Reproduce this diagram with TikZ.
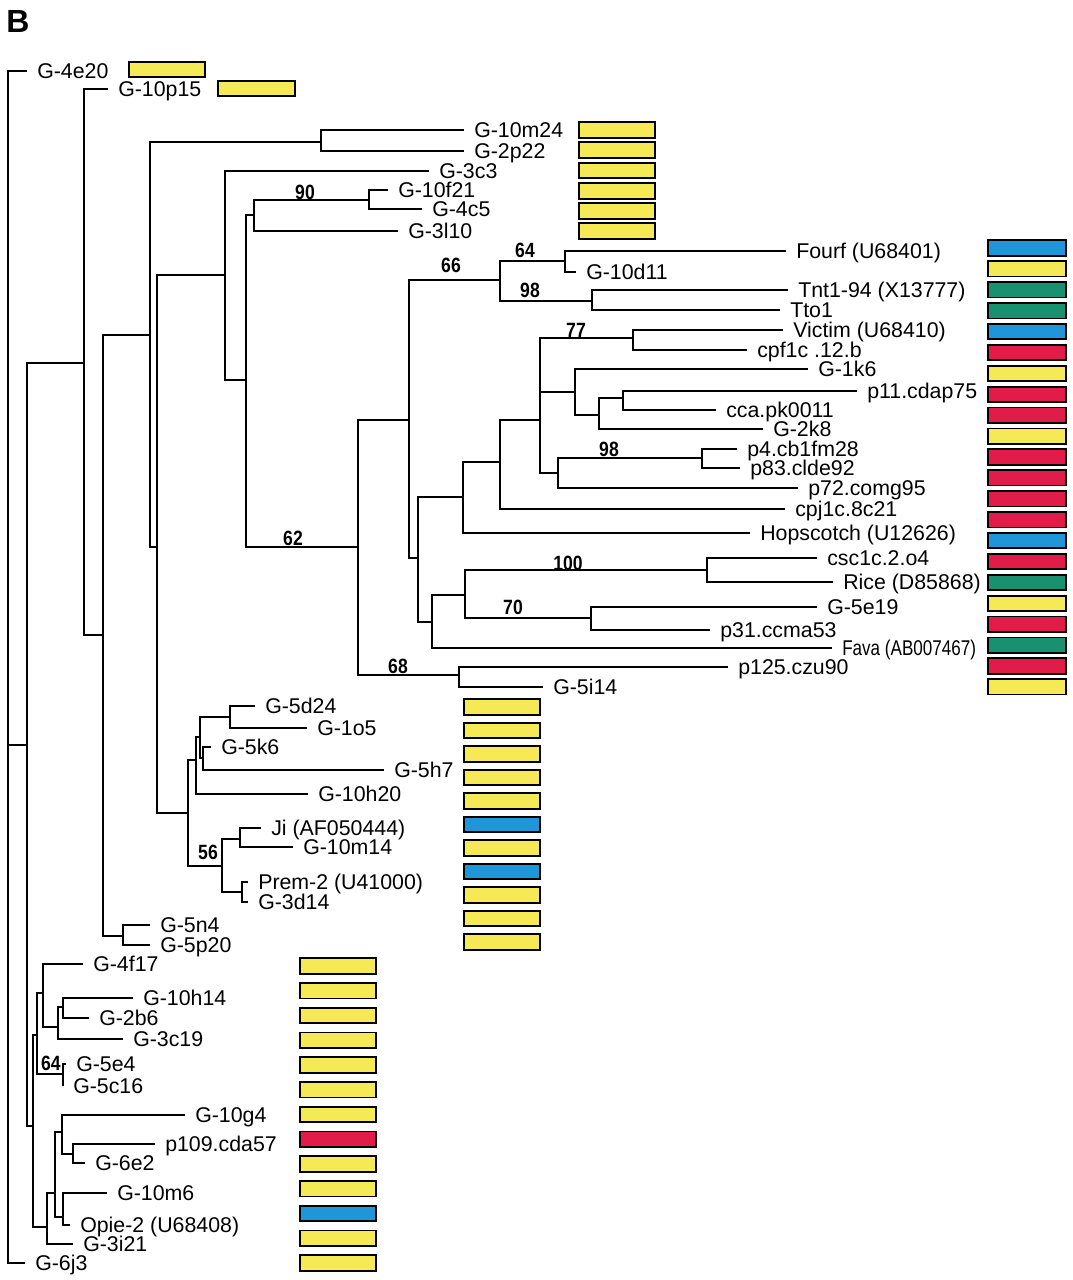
\documentclass[tikz,border=0pt]{standalone}
\usepackage{fontspec}
\setmainfont{Liberation Sans}
\definecolor{cy}{RGB}{245,234,85}
\definecolor{cb}{RGB}{30,150,215}
\definecolor{cg}{RGB}{25,145,112}
\definecolor{cr}{RGB}{225,28,72}
\newcommand\tbr[2]{\foreach \cc in {#2} {\draw[br] (#1) |- (\cc);}}
\begin{document}
\begin{tikzpicture}[x=0.75pt,y=-0.75pt,
 br/.style={line width=2.2pt},
 lab/.style={anchor=base west,inner sep=0pt,xshift=7.5pt,yshift=-5.7pt,font=\fontsize{16}{18}\selectfont},
 bs/.style={inner sep=0pt,font=\fontsize{15.5}{17}\selectfont\bfseries},
 cbox/.style={draw=black,line width=1.3pt,minimum width=57.5pt,minimum height=11.5pt,inner sep=0pt},
 rbox/.style={cbox,minimum width=59pt}]
\useasboundingbox (0,0) rectangle (1072,1280);
\node[anchor=base west,inner sep=0pt,font=\fontsize{24}{26}\selectfont\bfseries] (title) at (6,33) {B};

% ---------- coordinates: internal nodes ----------
\coordinate (R) at (8,745);
\coordinate (H) at (27,745);
\coordinate (G) at (84,363);
\coordinate (F) at (103,635);
\coordinate (E) at (150,335);
\coordinate (N5n) at (123,936);
\coordinate (N10m) at (321,142);
\coordinate (D) at (157,547);
\coordinate (A) at (225,275);
\coordinate (B) at (246,380);
\coordinate (C) at (254,215);
\coordinate (N90) at (369,200);
\coordinate (N62) at (358,547);
\coordinate (N66) at (409,420);
\coordinate (Nab) at (500,280);
\coordinate (N64) at (565,261);
\coordinate (N98) at (592,301);
\coordinate (Nq) at (418,558);
\coordinate (Nh) at (463,497);
\coordinate (Nc) at (500,462);
\coordinate (Nv) at (540,420);
\coordinate (N77) at (633,338);
\coordinate (Nk) at (575,392);
\coordinate (Np) at (599,415);
\coordinate (Nq2) at (623,398);
\coordinate (N98b) at (558,473);
\coordinate (Np4) at (702,458);
\coordinate (Nf) at (432,622);
\coordinate (N65) at (465,595);
\coordinate (N100) at (707,570);
\coordinate (N70) at (591,618);
\coordinate (N68) at (459,675);
\coordinate (M) at (188,813);
\coordinate (N2) at (196,760);
\coordinate (N1) at (200,737);
\coordinate (N5d) at (230,717);
\coordinate (N5k) at (203,758);
\coordinate (N56) at (222,866);
\coordinate (Nji) at (240,839);
\coordinate (Npr) at (242,892);
\coordinate (L) at (33,1126);
\coordinate (Nu) at (37,1035);
\coordinate (Na) at (43,993);
\coordinate (Nb) at (58,1027);
\coordinate (Nd) at (63,1007);
\coordinate (N64b) at (63,1074);
\coordinate (Nw) at (47,1227);
\coordinate (Nx) at (55,1193);
\coordinate (Ny) at (62,1132);
\coordinate (Ns) at (73,1154);
\coordinate (Nz) at (63,1217);

% ---------- tips ----------
\coordinate (t4e20) at (27,71);
\coordinate (t6j3) at (25,1263);
\coordinate (t10p15) at (108,89);
\coordinate (t5n4) at (150,925);
\coordinate (t5p20) at (150,945);
\coordinate (t10m24) at (464,130);
\coordinate (t2p22) at (464,151);
\coordinate (t3c3) at (429,171);
\coordinate (t10f21) at (388,190);
\coordinate (t4c5) at (422,209);
\coordinate (t3l10) at (398,231);
\coordinate (tfourf) at (786,251);
\coordinate (t10d11) at (576,272);
\coordinate (ttnt) at (788,290);
\coordinate (ttto) at (780,310);
\coordinate (tvic) at (783,330);
\coordinate (tcpf) at (747,350);
\coordinate (t1k6) at (808,369);
\coordinate (tp11) at (857,391);
\coordinate (tcca) at (716,410);
\coordinate (t2k8) at (763,429);
\coordinate (tp4) at (737,449);
\coordinate (tp83) at (740,468);
\coordinate (tp72) at (798,488);
\coordinate (tcpj) at (785,509);
\coordinate (thop) at (750,533);
\coordinate (tcsc) at (817,558);
\coordinate (trice) at (833,582);
\coordinate (t5e19) at (817,607);
\coordinate (tp31) at (710,630);
\coordinate (tfava) at (832,648);
\coordinate (tp125) at (728,667);
\coordinate (t5i14) at (543,687);
\coordinate (t5d24) at (255,706);
\coordinate (t1o5) at (307,728);
\coordinate (t5k6) at (211,747);
\coordinate (t5h7) at (384,770);
\coordinate (t10h20) at (308,794);
\coordinate (tji) at (261,828);
\coordinate (t10m14) at (293,847);
\coordinate (tprem) at (248,882);
\coordinate (t3d14) at (248,902);
\coordinate (t4f17) at (83,964);
\coordinate (t10h14) at (133,998);
\coordinate (t2b6) at (89,1018);
\coordinate (t3c19) at (123,1039);
\coordinate (t5e4) at (66,1064);
\coordinate (t5c16) at (63,1086);
\coordinate (t10g4) at (185,1115);
\coordinate (tp109) at (155,1144);
\coordinate (t6e2) at (85,1163);
\coordinate (t10m6) at (107,1193);
\coordinate (topie) at (70,1225);
\coordinate (t3i21) at (73,1244);

% ---------- branches ----------
\tbr{R}{t4e20,H,t6j3}
\tbr{H}{G,L}
\tbr{G}{t10p15,F}
\tbr{F}{E,N5n}
\tbr{N5n}{t5n4,t5p20}
\tbr{E}{N10m,D}
\tbr{N10m}{t10m24,t2p22}
\tbr{D}{A,M}
\tbr{A}{t3c3,B}
\tbr{B}{C,N62}
\tbr{C}{N90,t3l10}
\tbr{N90}{t10f21,t4c5}
\tbr{N62}{N66,N68}
\tbr{N66}{Nab,Nq}
\tbr{Nab}{N64,N98}
\tbr{N64}{tfourf,t10d11}
\tbr{N98}{ttnt,ttto}
\tbr{Nq}{Nh,Nf}
\tbr{Nh}{Nc,thop}
\tbr{Nc}{Nv,tcpj}
\tbr{Nv}{N77,Nk,N98b}
\tbr{N77}{tvic,tcpf}
\tbr{Nk}{t1k6,Np}
\tbr{Np}{Nq2,t2k8}
\tbr{Nq2}{tp11,tcca}
\tbr{N98b}{Np4,tp72}
\tbr{Np4}{tp4,tp83}
\tbr{Nf}{N65,tfava}
\tbr{N65}{N100,N70}
\tbr{N100}{tcsc,trice}
\tbr{N70}{t5e19,tp31}
\tbr{N68}{tp125,t5i14}
\tbr{M}{N2,N56}
\tbr{N2}{N1,t10h20}
\tbr{N1}{N5d,N5k}
\tbr{N5d}{t5d24,t1o5}
\tbr{N5k}{t5k6,t5h7}
\tbr{N56}{Nji,Npr}
\tbr{Nji}{tji,t10m14}
\tbr{Npr}{tprem,t3d14}
\tbr{L}{Nu,Nw}
\tbr{Nu}{Na,N64b}
\tbr{Na}{t4f17,Nb}
\tbr{Nb}{Nd,t3c19}
\tbr{Nd}{t10h14,t2b6}
\tbr{N64b}{t5e4,t5c16}
\tbr{Nw}{Nx,t3i21}
\tbr{Nx}{Ny,Nz}
\tbr{Ny}{t10g4,Ns}
\tbr{Ns}{tp109,t6e2}
\tbr{Nz}{t10m6,topie}

% ---------- leaf labels ----------
\node[lab] (l4e20) at (t4e20) {G-4e20};
\node[lab] (l6j3) at (t6j3) {G-6j3};
\node[lab] (l10p15) at (t10p15) {G-10p15};
\node[lab] (l5n4) at (t5n4) {G-5n4};
\node[lab] (l5p20) at (t5p20) {G-5p20};
\node[lab] (l10m24) at (t10m24) {G-10m24};
\node[lab] (l2p22) at (t2p22) {G-2p22};
\node[lab] (l3c3) at (t3c3) {G-3c3};
\node[lab] (l10f21) at (t10f21) {G-10f21};
\node[lab] (l4c5) at (t4c5) {G-4c5};
\node[lab] (l3l10) at (t3l10) {G-3l10};
\node[lab] (lfourf) at (tfourf) {Fourf (U68401)};
\node[lab] (l10d11) at (t10d11) {G-10d11};
\node[lab] (ltnt) at (ttnt) {Tnt1-94 (X13777)};
\node[lab] (ltto) at (ttto) {Tto1};
\node[lab] (lvic) at (tvic) {Victim (U68410)};
\node[lab] (lcpf) at (tcpf) {cpf1c .12.b};
\node[lab] (l1k6) at (t1k6) {G-1k6};
\node[lab] (lp11) at (tp11) {p11.cdap75};
\node[lab] (lcca) at (tcca) {cca.pk0011};
\node[lab] (l2k8) at (t2k8) {G-2k8};
\node[lab] (lp4) at (tp4) {p4.cb1fm28};
\node[lab] (lp83) at (tp83) {p83.clde92};
\node[lab] (lp72) at (tp72) {p72.comg95};
\node[lab] (lcpj) at (tcpj) {cpj1c.8c21};
\node[lab] (lhop) at (thop) {Hopscotch (U12626)};
\node[lab] (lcsc) at (tcsc) {csc1c.2.o4};
\node[lab] (lrice) at (trice) {Rice (D85868)};
\node[lab] (l5e19) at (t5e19) {G-5e19};
\node[lab] (lp31) at (tp31) {p31.ccma53};
\node[lab] (lfava) at (tfava) {\scalebox{0.8}[1]{Fava (AB007467)}};
\node[lab] (lp125) at (tp125) {p125.czu90};
\node[lab] (l5i14) at (t5i14) {G-5i14};
\node[lab] (l5d24) at (t5d24) {G-5d24};
\node[lab] (l1o5) at (t1o5) {G-1o5};
\node[lab] (l5k6) at (t5k6) {G-5k6};
\node[lab] (l5h7) at (t5h7) {G-5h7};
\node[lab] (l10h20) at (t10h20) {G-10h20};
\node[lab] (lji) at (tji) {Ji (AF050444)};
\node[lab] (l10m14) at (t10m14) {G-10m14};
\node[lab] (lprem) at (tprem) {Prem-2 (U41000)};
\node[lab] (l3d14) at (t3d14) {G-3d14};
\node[lab] (l4f17) at (t4f17) {G-4f17};
\node[lab] (l10h14) at (t10h14) {G-10h14};
\node[lab] (l2b6) at (t2b6) {G-2b6};
\node[lab] (l3c19) at (t3c19) {G-3c19};
\node[lab] (l5e4) at (t5e4) {G-5e4};
\node[lab] (l5c16) at (t5c16) {G-5c16};
\node[lab] (l10g4) at (t10g4) {G-10g4};
\node[lab] (lp109) at (tp109) {p109.cda57};
\node[lab] (l6e2) at (t6e2) {G-6e2};
\node[lab] (l10m6) at (t10m6) {G-10m6};
\node[lab] (lopie) at (topie) {Opie-2 (U68408)};
\node[lab] (l3i21) at (t3i21) {G-3i21};

% ---------- bootstrap values ----------
\node[bs] (bs90) at (305,192) {\scalebox{0.85}[1]{90}};
\node[bs] (bs66) at (451,265) {\scalebox{0.85}[1]{66}};
\node[bs] (bs64) at (525,250) {\scalebox{0.85}[1]{64}};
\node[bs] (bs98) at (530,290) {\scalebox{0.85}[1]{98}};
\node[bs] (bs77) at (576,330) {\scalebox{0.85}[1]{77}};
\node[bs] (bs98b) at (609,449) {\scalebox{0.85}[1]{98}};
\node[bs] (bs62) at (293,538) {\scalebox{0.85}[1]{62}};
\node[bs] (bs100) at (568,563) {\scalebox{0.85}[1]{100}};
\node[bs] (bs70) at (513,607) {\scalebox{0.85}[1]{70}};
\node[bs] (bs68) at (398,666) {\scalebox{0.85}[1]{68}};
\node[bs] (bs56) at (208,852) {\scalebox{0.85}[1]{56}};
\node[bs] (bs64b) at (51,1063) {\scalebox{0.85}[1]{64}};

% ---------- colour boxes ----------
\node[cbox,fill=cy] (bx1) at (167,69.5) {};
\node[cbox,fill=cy] (bx2) at (256.5,88.5) {};
\foreach \yy [count=\i] in {130,150,170.5,191,211,231}
  \node[cbox,fill=cy] (bt\i) at (617,\yy) {};
\foreach \cl [count=\i] in {cb,cy,cg,cg,cb,cr,cy,cr,cr,cy,cr,cr,cr,cr,cb,cr,cg,cy,cr,cg,cr,cy}
  \node[rbox,fill=\cl] (br\i) at (1027,{248+20.9*(\i-1)}) {};
\foreach \cl [count=\i] in {cy,cy,cy,cy,cy,cb,cy,cb,cy,cy,cy}
  \node[cbox,fill=\cl] (bm\i) at (502,{707+23.5*(\i-1)}) {};
\foreach \cl [count=\i] in {cy,cy,cy,cy,cy,cy,cy,cr,cy,cy,cb,cy,cy}
  \node[cbox,fill=\cl] (bb\i) at (338,{966+24.75*(\i-1)}) {};
\end{tikzpicture}
\end{document}
